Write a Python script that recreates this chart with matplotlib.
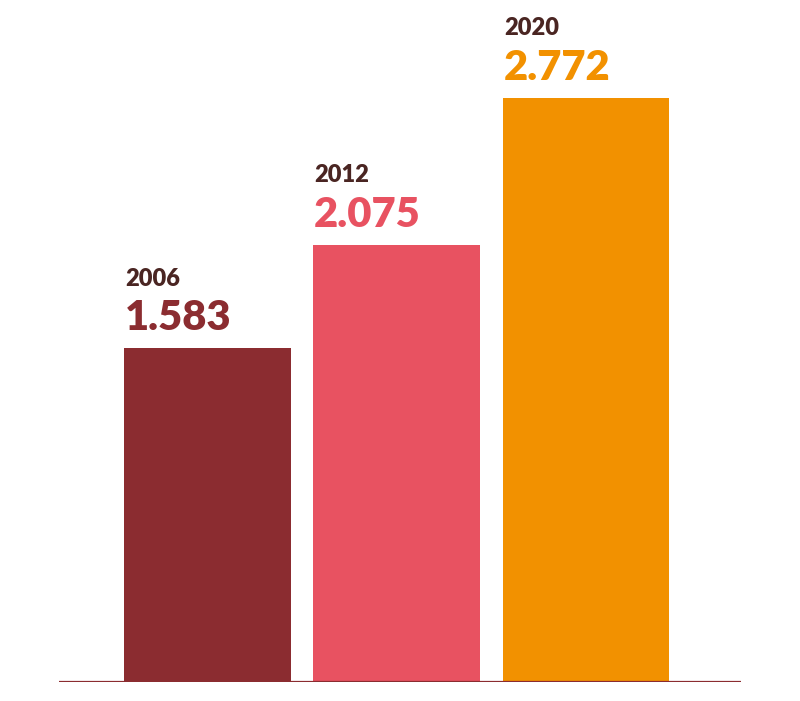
import matplotlib.pyplot as plt

years = ["2006", "2012", "2020"]
values = [1.583, 2.075, 2.772]
labels = ["1.583", "2.075", "2.772"]
colors = ["#8B2C30", "#E85261", "#F29100"]

fig = plt.figure(figsize=(8, 7.01), dpi=100)
ax = fig.add_axes([59 / 800, 19 / 701, 682 / 800, 682 / 701])

x = range(len(values))
width = 0.882
ax.bar(x, values, width=width, color=colors, zorder=2)
ax.axhline(0, color="#8B2C30", lw=1.6, zorder=3)

for i, (yr, v, lab, c) in enumerate(zip(years, values, labels, colors)):
    left = i - width / 2
    ax.annotate(lab, (left, v), xytext=(0.5, 13), textcoords="offset points",
                ha="left", va="baseline", fontsize=30, fontweight="heavy",
                color=c, family="Lato")
    ax.annotate(yr, (left, v), xytext=(1, 45), textcoords="offset points",
                ha="left", va="baseline", fontsize=17, fontweight="heavy",
                color="#4A2522", family="Lato")

ax.set_xlim(-0.785, 2.819)
ax.set_ylim(0, 3.237)
ax.axis("off")

fig.savefig("out.png", dpi=100)
